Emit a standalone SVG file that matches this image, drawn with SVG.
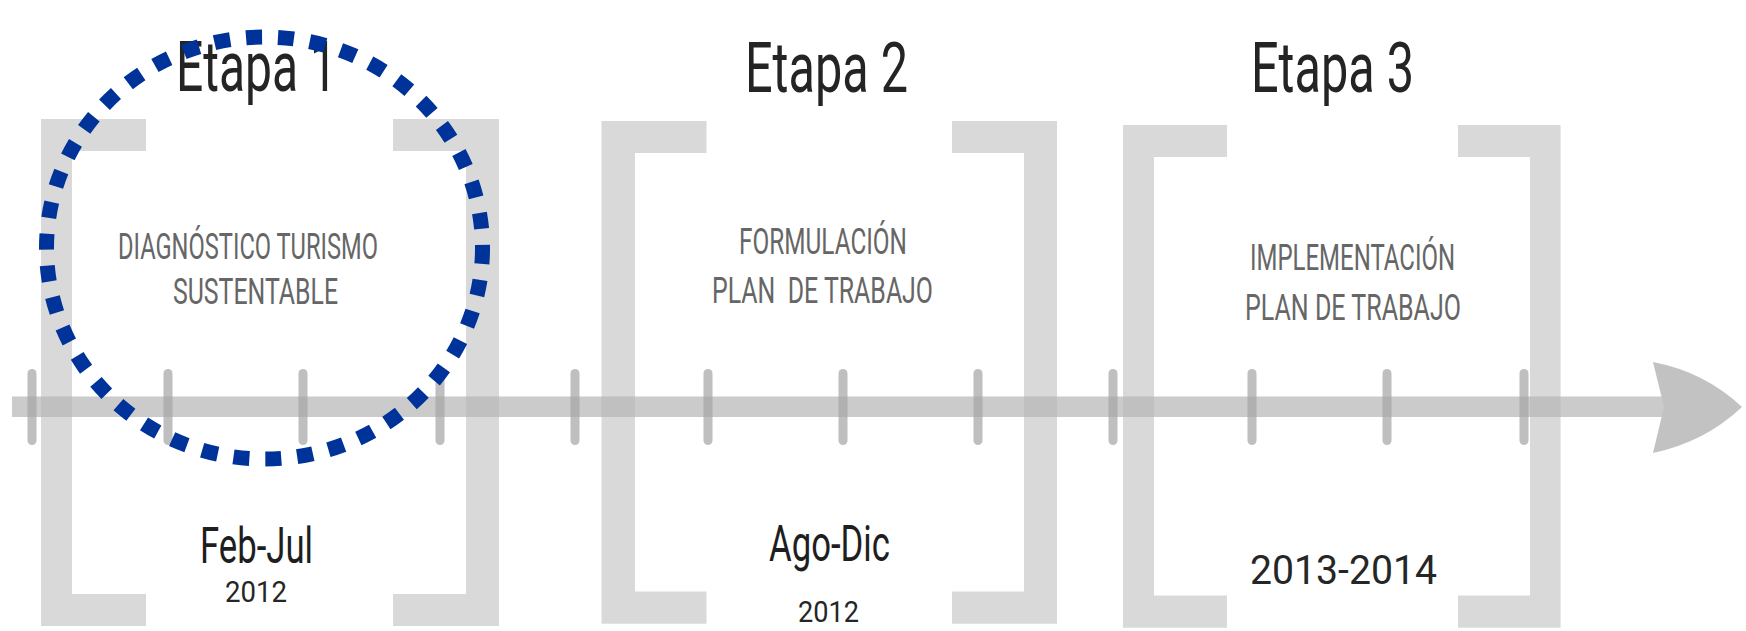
<svg xmlns="http://www.w3.org/2000/svg" width="1746" height="631" viewBox="0 0 1746 631">
  <style>
    .bracket { fill: #c9c9c9; fill-opacity: 0.7; }
    .bar { fill: #b5b5b5; fill-opacity: 0.7; }
    .tick { fill: #a4a4a4; fill-opacity: 0.7; }
    .head { fill: #c2c2c2; }
    .title { font-family: Roboto, "DejaVu Sans", sans-serif; font-size: 71px; fill: #242424; }
    .label { font-family: Roboto, "DejaVu Sans", sans-serif; font-size: 36px; fill: #666666; }
    .date { font-family: Roboto, "DejaVu Sans", sans-serif; font-size: 50px; fill: #1e1e1e; }
    .year { font-family: Roboto, "DejaVu Sans", sans-serif; font-size: 30px; fill: #262626; }
    .highlight { fill: none; stroke: #003399; stroke-width: 15; stroke-dasharray: 16 16; }
  </style>
  <rect width="1746" height="631" fill="#ffffff"/>

  <g id="stage-1">
    <path class="bracket" d="M41,119 H146 V151 H72 V594 H146 V626 H41 Z"/>
    <path class="bracket" d="M393,119 H499 V626 H393 V594 H466 V151 H393 Z"/>
    <text class="title" x="176" y="91" textLength="161" lengthAdjust="spacingAndGlyphs">Etapa 1</text>
    <text class="label" x="118" y="259" textLength="260" lengthAdjust="spacingAndGlyphs">DIAGNÓSTICO TURISMO</text>
    <text class="label" x="173" y="304" textLength="165" lengthAdjust="spacingAndGlyphs">SUSTENTABLE</text>
    <text class="date" x="200" y="563" textLength="113" lengthAdjust="spacingAndGlyphs">Feb-Jul</text>
    <text class="year" x="225" y="602" textLength="62" lengthAdjust="spacingAndGlyphs">2012</text>
  </g>

  <g id="stage-2">
    <path class="bracket" d="M601.5,121 H706.5 V153 H635 V591.5 H706.5 V623.7 H601.5 Z"/>
    <path class="bracket" d="M952,121 H1057 V623.7 H952 V591.5 H1024 V153 H952 Z"/>
    <text class="title" x="745" y="92" textLength="163" lengthAdjust="spacingAndGlyphs">Etapa 2</text>
    <text class="label" x="739" y="254" textLength="168" lengthAdjust="spacingAndGlyphs">FORMULACIÓN</text>
    <text class="label" x="712" y="302.5" textLength="221" lengthAdjust="spacingAndGlyphs" xml:space="preserve">PLAN  DE TRABAJO</text>
    <text class="date" x="769" y="561" textLength="121" lengthAdjust="spacingAndGlyphs">Ago-Dic</text>
    <text class="year" x="798" y="622" textLength="61" lengthAdjust="spacingAndGlyphs">2012</text>
  </g>

  <g id="stage-3">
    <path class="bracket" d="M1123,125 H1227 V157 H1154 V595.6 H1227 V627.8 H1123 Z"/>
    <path class="bracket" d="M1458,125 H1560.6 V627.8 H1458 V595.6 H1530 V157 H1458 Z"/>
    <text class="title" x="1251" y="92" textLength="163" lengthAdjust="spacingAndGlyphs">Etapa 3</text>
    <text class="label" x="1250" y="270" textLength="205" lengthAdjust="spacingAndGlyphs">IMPLEMENTACIÓN</text>
    <text class="label" x="1245" y="320" textLength="216" lengthAdjust="spacingAndGlyphs">PLAN DE TRABAJO</text>
    <text class="year" x="1250" y="583.5" textLength="187" lengthAdjust="spacingAndGlyphs" style="font-size:40px">2013-2014</text>
  </g>

  <g id="connectors">
    <rect class="bar" x="12" y="396.5" width="1652" height="20.5"/>
    <path class="head" d="M1653,362 Q1705,372 1742,407 Q1705,442 1653,453 L1664,407 Z"/>
    <rect class="tick" x="27.5" y="369" width="9" height="76" rx="4.5"/>
    <rect class="tick" x="163.5" y="369" width="9" height="76" rx="4.5"/>
    <rect class="tick" x="298.5" y="369" width="9" height="76" rx="4.5"/>
    <rect class="tick" x="435.5" y="369" width="9" height="76" rx="4.5"/>
    <rect class="tick" x="570.5" y="369" width="9" height="76" rx="4.5"/>
    <rect class="tick" x="703.5" y="369" width="9" height="76" rx="4.5"/>
    <rect class="tick" x="838.5" y="369" width="9" height="76" rx="4.5"/>
    <rect class="tick" x="973.5" y="369" width="9" height="76" rx="4.5"/>
    <rect class="tick" x="1108.5" y="369" width="9" height="76" rx="4.5"/>
    <rect class="tick" x="1247.5" y="369" width="9" height="76" rx="4.5"/>
    <rect class="tick" x="1382.5" y="369" width="9" height="76" rx="4.5"/>
    <rect class="tick" x="1519.5" y="369" width="9" height="76" rx="4.5"/>
  </g>

  <g id="highlight">
    <ellipse class="highlight" cx="264.5" cy="248" rx="218" ry="211"/>
  </g>
</svg>
